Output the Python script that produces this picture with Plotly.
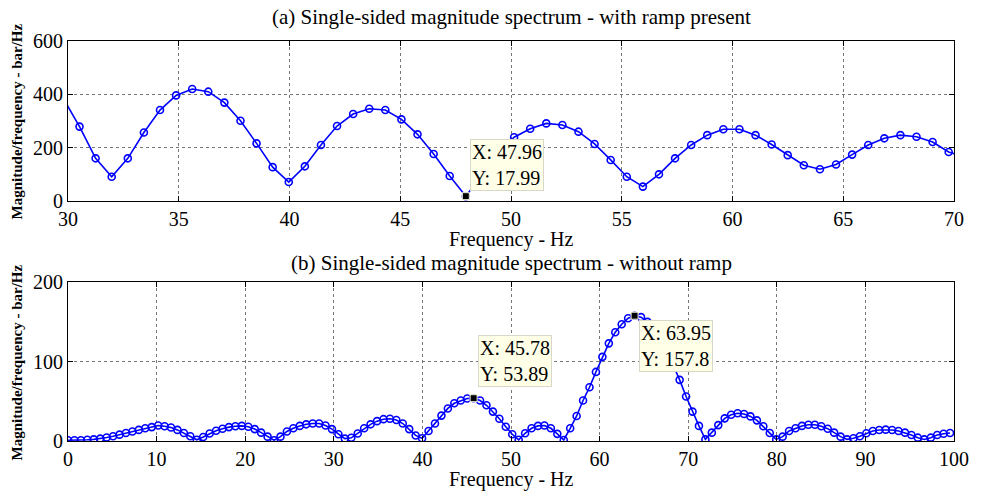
import numpy as np
import plotly.graph_objects as go

# FFT bin resolution (Hz), read from the data tips (47.96 = 66 bins, 63.95 = 88 bins)
df = 0.72667

# (a) with ramp present: bins 41..97 (plot clipped to 30-70 Hz)
a_first_bin = 41
a_mag = [384, 279, 160, 91, 160, 257, 341, 396, 420, 410,
         369, 301, 216, 127, 71, 130, 210, 281, 326, 346,
         341, 306, 250, 176, 94, 17.99, 98, 178, 239, 271,
         291, 285, 260, 214, 154, 91, 54, 100, 160, 210,
         247, 269, 269, 247, 212, 172, 134, 119, 137, 174,
         210, 235, 247, 241, 221, 184, 165]

# (b) without ramp: bins 0..137
b_mag = [1, 1, 1, 1.5, 2, 3, 4.5, 6, 8, 10,
         12, 14, 16, 17.5, 19.5, 18.5, 17, 14, 10, 6,
         1.5, 5, 9.5, 13, 15.5, 17.5, 18.5, 19, 18, 15,
         10.5, 5.5, 1, 5.5, 12, 16, 19, 21, 22, 22,
         19.5, 15, 8.5, 3, 4, 9.5, 16, 21, 25, 27.5,
         28, 26.5, 22, 15, 7, 3.4, 12.6, 22, 32, 41,
         47.5, 51, 53.5, 53.89, 51, 45, 37, 28, 18, 8.5,
         1.5, 9.7, 16, 19, 19.5, 16, 9, 1.3, 16, 31.5,
         51, 67.7, 87, 106, 123, 137, 147, 154.6, 157.8, 156,
         150, 141, 129, 114, 96, 77, 56, 37, 19, 2,
         10.5, 20, 28.5, 33, 35, 34, 31, 26, 18.5, 10,
         2, 5.5, 12.6, 16, 19, 20.5, 20.5, 18.5, 15.5, 10.5,
         5.5, 2, 3.5, 6, 9.7, 12.6, 13.9, 14.3, 13.9, 12.6,
         10.5, 7.6, 4.2, 2, 4.2, 7.6, 9.2, 10]

a_freq = (np.arange(len(a_mag)) + a_first_bin) * df
b_freq = np.arange(len(b_mag)) * df

# data tips
tips_a = [(47.96, 17.99)]
tips_b = [(45.78, 53.89), (63.95, 157.8)]

titles = ["(a) Single-sided magnitude spectrum - with ramp present",
          "(b) Single-sided magnitude spectrum - without ramp"]
xlabel = "Frequency - Hz"
ylabel = "Magnitude/frequency - bar/Hz"

FONT = "Liberation Serif"
BLUE = "#0000FF"

fig = go.Figure()
line_style = dict(color=BLUE, width=1.6)
marker_style = dict(symbol="circle-open", size=7, color=BLUE, line=dict(color=BLUE, width=1.6))

fig.add_trace(go.Scatter(x=a_freq, y=a_mag, mode="lines+markers", line=line_style,
                         marker=marker_style, xaxis="x", yaxis="y", showlegend=False))
fig.add_trace(go.Scatter(x=b_freq, y=b_mag, mode="lines+markers", line=line_style,
                         marker=marker_style, xaxis="x2", yaxis="y2", showlegend=False))

tipmk = dict(symbol="square", size=7, color="black", line=dict(color="#FFFFE0", width=1))
fig.add_trace(go.Scatter(x=[t[0] for t in tips_a], y=[t[1] for t in tips_a], mode="markers",
                         marker=tipmk, xaxis="x", yaxis="y", showlegend=False, cliponaxis=False))
fig.add_trace(go.Scatter(x=[t[0] for t in tips_b], y=[t[1] for t in tips_b], mode="markers",
                         marker=tipmk, xaxis="x2", yaxis="y2", showlegend=False, cliponaxis=False))

axis_common = dict(
    showline=True, linecolor="black", linewidth=1, mirror="allticks",
    ticks="inside", ticklen=5, tickcolor="black", tickwidth=1,
    showgrid=True, gridcolor="#777777", griddash="dot", gridwidth=1,
    zeroline=False, tickfont=dict(family=FONT, size=20, color="black"),
)

fig.update_layout(
    width=981, height=492,
    margin=dict(l=68, r=20, t=41, b=51),
    plot_bgcolor="white", paper_bgcolor="white",
    font=dict(family=FONT),
    xaxis=dict(axis_common, domain=[0, 1], range=[30, 70], tickvals=[30, 35, 40, 45, 50, 55, 60, 65, 70],
               anchor="y"),
    yaxis=dict(axis_common, domain=[0.6, 1], range=[0, 600], tickvals=[0, 200, 400, 600], anchor="x"),
    xaxis2=dict(axis_common, domain=[0, 1], range=[0, 100], tickvals=list(range(0, 101, 10)),
                anchor="y2"),
    yaxis2=dict(axis_common, domain=[0, 0.397], range=[0, 200], tickvals=[0, 100, 200], anchor="x2"),
)

ann = []
# subplot titles
ann.append(dict(text=titles[0], xref="paper", yref="paper", x=0.5, y=(441 - 17) / 400, xanchor="center",
                yanchor="middle", showarrow=False, font=dict(family=FONT, size=21, color="black")))
ann.append(dict(text=titles[1], xref="paper", yref="paper", x=0.5, y=(441 - 263) / 400, xanchor="center",
                yanchor="middle", showarrow=False, font=dict(family=FONT, size=21, color="black")))
# x labels
ann.append(dict(text=xlabel, xref="paper", yref="paper", x=0.5, y=(441 - 239.5) / 400, xanchor="center",
                yanchor="middle", showarrow=False, font=dict(family=FONT, size=20, color="black")))
ann.append(dict(text=xlabel, xref="paper", yref="paper", x=0.5, y=(441 - 479) / 400, xanchor="center",
                yanchor="middle", showarrow=False, font=dict(family=FONT, size=20, color="black")))
# y labels
ann.append(dict(text="<b>" + ylabel + "</b>", xref="paper", yref="paper", x=(17 - 68) / 893,
                y=(441 - 121) / 400, textangle=-90, xanchor="center", yanchor="middle",
                showarrow=False, font=dict(family=FONT, size=15, color="black")))
ann.append(dict(text="<b>" + ylabel + "</b>", xref="paper", yref="paper", x=(17 - 68) / 893,
                y=(441 - 362) / 400, textangle=-90, xanchor="center", yanchor="middle",
                showarrow=False, font=dict(family=FONT, size=15, color="black")))

tipbox = dict(showarrow=False, bgcolor="#FFFFE8", bordercolor="#D8D8C8", borderwidth=1, borderpad=1,
              align="left", font=dict(family=FONT, size=20, color="black"))
for (x, y) in tips_a:
    ann.append(dict(tipbox, text=f"X: {x:.2f}<br>Y: {y:.2f}", x=x, y=y, xref="x", yref="y",
                    xanchor="left", yanchor="bottom", xshift=4, yshift=5))
x, y = tips_b[0]
ann.append(dict(tipbox, text=f"X: {x:.2f}<br>Y: {y:.2f}", x=x, y=y, xref="x2", yref="y2",
                xanchor="left", yanchor="bottom", xshift=4, yshift=11))
x, y = tips_b[1]
ann.append(dict(tipbox, text=f"X: {x:.2f}<br>Y: {y:.1f}", x=x, y=y, xref="x2", yref="y2",
                xanchor="left", yanchor="top", xshift=4, yshift=-4))

fig.update_layout(annotations=ann)
fig.write_html("out.html")
